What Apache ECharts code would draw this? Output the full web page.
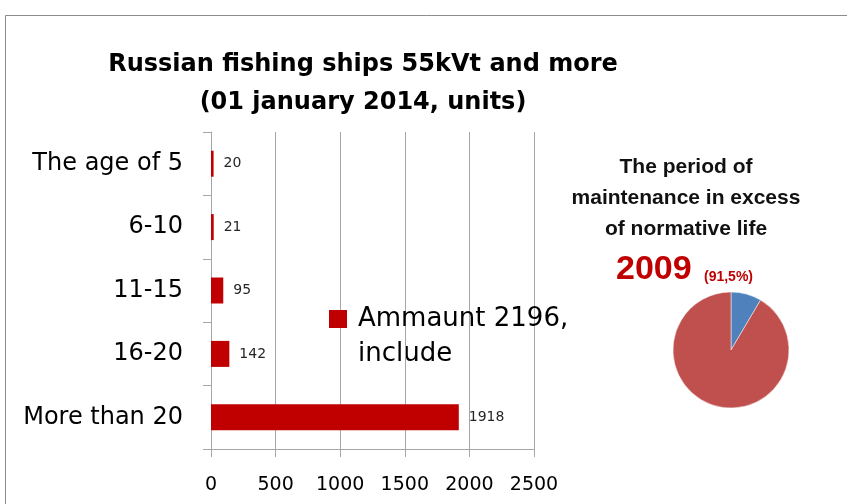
<!DOCTYPE html>
<html>
<head>
<meta charset="utf-8">
<script src="https://cdn.jsdelivr.net/npm/echarts@6/dist/echarts.min.js"></script>
<style>
  html, body { margin: 0; padding: 0; background: #fff; }
  #chart { width: 847px; height: 504px; }
</style>
</head>
<body>
<div id="chart"></div>
<script>
// Age groups of fishing vessels (55 kW and more) and their counts
const ageGroups = ['The age of 5', '6-10', '11-15', '16-20', 'More than 20'];
const shipCounts = [20, 21, 95, 142, 1918];
const xTicks = [0, 500, 1000, 1500, 2000, 2500];

// Fleet total and vessels operated beyond their normative life
const totalShips = 2196;
const overLifeShips = 2009;
const pieNames = ['Within normative life', 'Beyond normative life'];
const pieValues = [totalShips - overLifeShips, overLifeShips];

const overPct = (overLifeShips / totalShips * 100).toFixed(1).replace('.', ',');

const chart = echarts.init(document.getElementById('chart'), null, { renderer: 'canvas' });

const sans = 'DejaVu Sans';
const arial = 'Liberation Sans';
const gridGray = '#a6a6a6';

chart.setOption({
  animation: false,
  backgroundColor: '#ffffff',
  title: [
    {
      text: 'Russian fishing ships 55kVt and more\n(01 january 2014, units)',
      left: 363, top: 46, textAlign: 'center', padding: 0,
      textStyle: { fontFamily: sans, fontWeight: 'bold', fontSize: 24, lineHeight: 38, color: '#000' }
    },
    {
      text: 'The period of\nmaintenance in excess\nof normative life',
      left: 686, top: 152, textAlign: 'center', padding: 0,
      textStyle: { fontFamily: arial, fontWeight: 'bold', fontSize: 21, lineHeight: 31, color: '#111' }
    },
    {
      text: String(overLifeShips),
      left: 616, top: 252, padding: 0,
      textStyle: { fontFamily: arial, fontWeight: 'bold', fontSize: 34, lineHeight: 36, color: '#c00000' }
    },
    {
      text: '(' + overPct + '%)',
      left: 704, top: 269, padding: 0,
      textStyle: { fontFamily: arial, fontWeight: 'bold', fontSize: 14, lineHeight: 16, color: '#c00000' }
    }
  ],
  legend: {
    data: ['Ammaunt ' + totalShips + ', include'],
    left: 329, top: 306, padding: 0,
    icon: 'rect', itemWidth: 18, itemHeight: 18,
    selectedMode: false,
    formatter: () => 'Ammaunt ' + totalShips + ',',
    textStyle: { fontFamily: sans, fontSize: 26, lineHeight: 21, color: '#000', padding: [0, 0, 0, 6] }
  },
  graphic: [
    {
      type: 'rect', silent: true, z: -1,
      shape: { x: 5.5, y: 15.5, width: 1000, height: 600 },
      style: { fill: null, stroke: '#8c8c8c', lineWidth: 1 }
    },
    {
      type: 'text', left: 358, top: 341, silent: true,
      style: { text: 'include', font: '26px "DejaVu Sans"', fill: '#000' }
    }
  ],
  grid: { left: 211, right: 313, top: 132, bottom: 55, containLabel: false },
  xAxis: {
    type: 'value', min: xTicks[0], max: xTicks[xTicks.length - 1], interval: xTicks[1] - xTicks[0],
    axisLine: { show: true, lineStyle: { color: gridGray } },
    axisTick: { show: true, length: 8, lineStyle: { color: gridGray } },
    splitLine: { show: true, lineStyle: { color: gridGray, width: 1 } },
    axisLabel: { fontFamily: sans, fontSize: 19, color: '#000', margin: 27, formatter: v => String(v) }
  },
  yAxis: {
    type: 'category', data: ageGroups, inverse: true,
    axisLine: { show: true, lineStyle: { color: gridGray } },
    axisTick: { show: true, length: 8, lineStyle: { color: gridGray } },
    axisLabel: { fontFamily: sans, fontSize: 24, color: '#000', margin: 28 }
  },
  series: [
    {
      type: 'bar', name: 'Ammaunt ' + totalShips + ', include',
      data: shipCounts, barWidth: 26,
      itemStyle: { color: '#c00000' },
      label: { show: true, position: 'right', distance: 10, fontFamily: sans, fontSize: 14, color: '#262626' }
    },
    {
      type: 'pie', name: 'Normative life',
      center: [731, 350], radius: 58, startAngle: 90, clockwise: true,
      label: { show: false }, labelLine: { show: false },
      itemStyle: { borderColor: '#ffffff', borderWidth: 0.5 },
      data: pieNames.map((n, i) => ({ name: n, value: pieValues[i], itemStyle: { color: i === 0 ? '#4f81bd' : '#c0504d' } }))
    }
  ]
});
</script>
</body>
</html>
